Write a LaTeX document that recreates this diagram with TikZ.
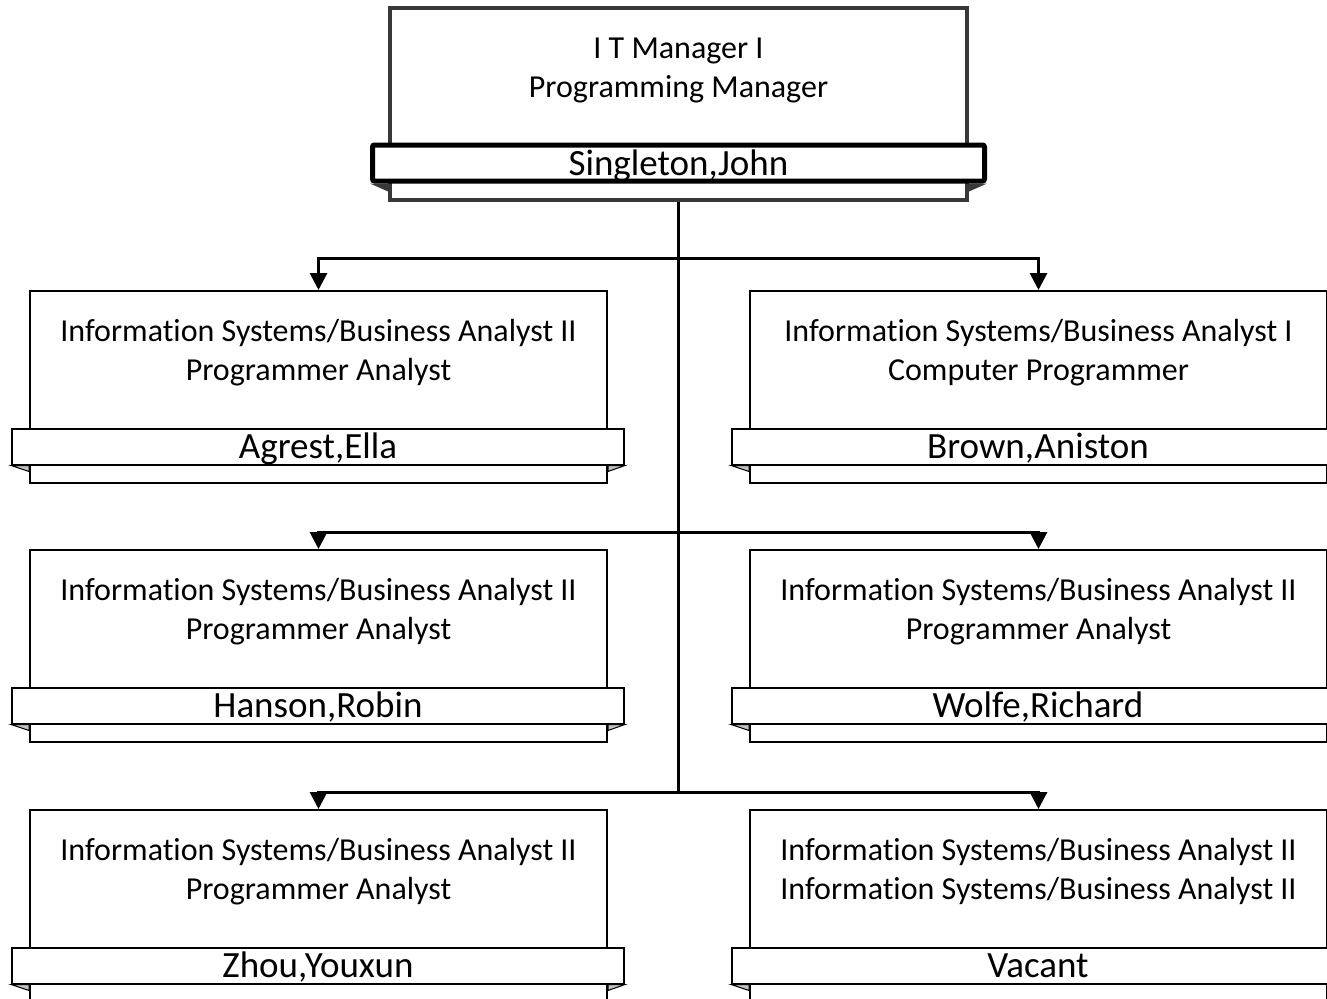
\documentclass[tikz,border=0pt]{standalone}
\usepackage{fontspec}
\setmainfont{Carlito}[RawFeature={-liga;-clig;-calt}]
\usepackage{tikz}
\usetikzlibrary{arrows.meta}
\definecolor{bossgray}{HTML}{383838}
\definecolor{flapgray}{HTML}{C0C0C0}

\begin{document}
\begin{tikzpicture}[
    x=1pt, y=-1pt,
    posbox/.style={draw=black, line width=2pt, fill=white, minimum width=577pt, minimum height=192pt, inner sep=0pt},
    bossbox/.style={posbox, draw=bossgray, line width=4pt},
    title/.style={align=center, inner sep=0pt, font=\fontsize{32}{39}\selectfont},
    namebar/.style={draw=black, line width=2pt, fill=white, minimum width=612pt, minimum height=36pt, inner sep=0pt, text height=29pt, text depth=5pt, font=\fontsize{37}{40}\selectfont},
    bossbar/.style={namebar, line width=5pt, rounded corners=2pt},
    flap/.style={draw=black, line width=1pt, fill=flapgray},
    link/.style={draw=black, line width=3pt},
    arr/.style={link, -{Triangle[width=17pt,length=17pt]}}
]
\path[use as bounding box, clip] (0,0) rectangle (1327,998);

% manager
\node[bossbox] (mgr) at (678.5,104) {};
\node[title] (mgrt) at (678.5,70) {I T Manager I\\Programming Manager};
\node[bossbar] (mgrn) at (678.5,163) {Singleton,John};
\fill[bossgray] (mgrn.south west) -- (mgr.west |- mgrn.south) -- ++(0,8) -- cycle;
\fill[bossgray] (mgrn.south east) -- (mgr.east |- mgrn.south) -- ++(0,8) -- cycle;

% staff
\node[posbox] (ana1) at (318.5,387) {};
\node[title] (ana1t) at (318.5,353) {Information Systems/Business Analyst II\\Programmer Analyst};
\node[namebar] (ana1n) at (318,446.5) {Agrest,Ella};

\node[posbox] (ana2) at (1038.5,387) {};
\node[title] (ana2t) at (1038.5,353) {Information Systems/Business Analyst I\\Computer Programmer};
\node[namebar] (ana2n) at (1038,446.5) {Brown,Aniston};

\node[posbox] (ana3) at (318.5,646) {};
\node[title] (ana3t) at (318.5,612) {Information Systems/Business Analyst II\\Programmer Analyst};
\node[namebar] (ana3n) at (318,705.5) {Hanson,Robin};

\node[posbox] (ana4) at (1038.5,646) {};
\node[title] (ana4t) at (1038.5,612) {Information Systems/Business Analyst II\\Programmer Analyst};
\node[namebar] (ana4n) at (1038,705.5) {Wolfe,Richard};

\node[posbox] (ana5) at (318.5,906) {};
\node[title] (ana5t) at (318.5,872) {Information Systems/Business Analyst II\\Programmer Analyst};
\node[namebar] (ana5n) at (318,965.5) {Zhou,Youxun};

\node[posbox] (ana6) at (1038.5,906) {};
\node[title] (ana6t) at (1038.5,871) {Information Systems/Business Analyst II\\Information Systems/Business Analyst II};
\node[namebar] (ana6n) at (1038,965.5) {Vacant};

\foreach \i in {1,...,6} {
    \draw[flap] (ana\i n.south west) -- (ana\i.west |- ana\i n.south) -- ++(0,6) -- cycle;
    \draw[flap] (ana\i n.south east) -- (ana\i.east |- ana\i n.south) -- ++(0,6) -- cycle;
}

% reporting lines
\coordinate (j1) at (678.5,258);
\coordinate (j2) at (678.5,532);
\coordinate (j3) at (678.5,792);
\draw[link] (mgr.south) -- (j3);
\foreach \r/\a/\b in {1/1/2, 2/3/4, 3/5/6} {
    \draw[arr] (j\r) -| (ana\a.north);
    \draw[arr] (j\r) -| (ana\b.north);
}
\end{tikzpicture}
\end{document}
